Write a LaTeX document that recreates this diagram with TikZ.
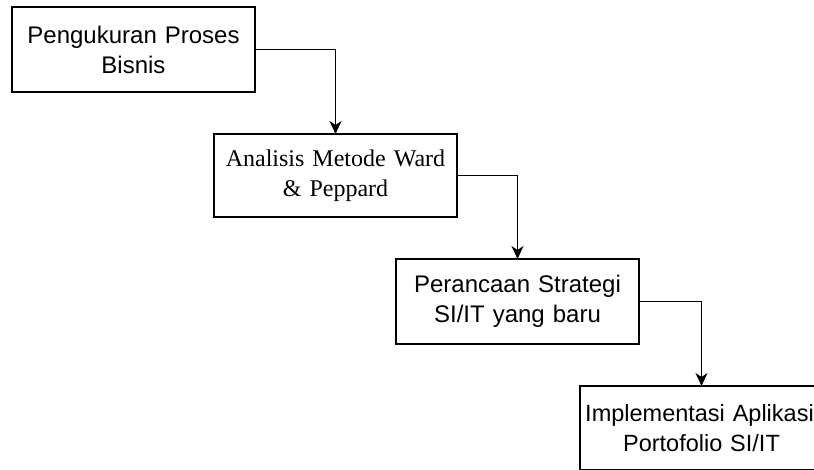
\documentclass[tikz,border=0pt]{standalone}
\usepackage{fontspec}
\setmainfont{Liberation Sans}
\newfontfamily\serifblok{Liberation Serif}
\usepackage{tikz}
\usetikzlibrary{arrows.meta}
\usetikzlibrary{positioning}

\begin{document}
\begin{tikzpicture}[x=1pt,y=1pt,semithick]
	\tikzstyle{blok}=[draw, line width=2pt, rectangle, inner sep=3pt, outer sep=0pt,
		text width=237pt, align=center, minimum height=85pt,
		font=\fontsize{24}{30}\selectfont]
	\tikzstyle{panah}=[line width=1.8pt, -{Stealth[length=13pt,width=12pt,inset=4pt]}]
	\clip (0,0) rectangle (814,470);
	\useasboundingbox (0,0) rectangle (814,470);

	\node[blok] (ukur) at (133.5,420.5) {Pengukuran Proses\\Bisnis};
	\node[blok, minimum height=83pt, font=\serifblok\fontsize{24}{30}\selectfont] (analisis)
		[below right=42pt and -41pt of ukur.south east, anchor=north west] {Analisis Metode Ward\\\& Peppard};
	\node[blok] (rancang) [below right=42pt and -61pt of analisis.south east, anchor=north west] {Perancaan Strategi\\SI/IT yang baru};
	\node[blok, minimum height=84pt, font=\fontsize{23.5}{30}\selectfont] (impl)
		[below right=42pt and -59pt of rancang.south east, anchor=north west] {\hspace*{-4pt}Implementasi Aplikasi\\Portofolio SI/IT};

	\draw[panah] (ukur) -| (analisis);
	\draw[panah] (analisis) -| (rancang);
	\draw[panah] (rancang) -| (impl);
\end{tikzpicture}
\end{document}
